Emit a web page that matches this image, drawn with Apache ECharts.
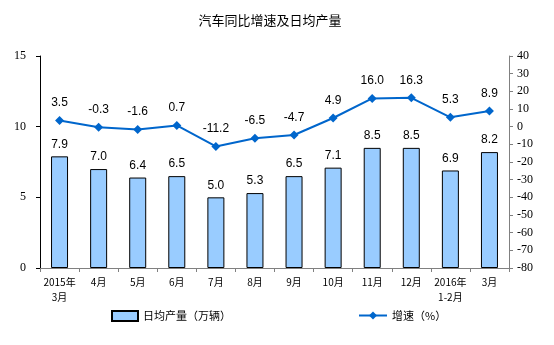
<!DOCTYPE html>
<html>
<head>
<meta charset="utf-8">
<script src="https://cdn.jsdelivr.net/npm/echarts@6/dist/echarts.min.js"></script>
<style>
html,body{margin:0;padding:0;background:#fff;}
#chart{width:554px;height:345px;}
</style>
</head>
<body>
<div id="chart"></div>
<script>
// Monthly car output: categories, daily average output and YoY growth
var categories = ['2015年\n3月', '4月', '5月', '6月', '7月', '8月', '9月', '10月', '11月', '12月', '2016年\n1-2月', '3月'];
var dailyOutput = [7.9, 7.0, 6.4, 6.5, 5.0, 5.3, 6.5, 7.1, 8.5, 8.5, 6.9, 8.2];
var growthRate = [3.5, -0.3, -1.6, 0.7, -11.2, -6.5, -4.7, 4.9, 16.0, 16.3, 5.3, 8.9];
var barName = '日均产量（万辆）';
var lineName = '增速（%）';

var chart = echarts.init(document.getElementById('chart'));
var sans = 'Liberation Sans, Arial, sans-serif';
var cjk = 'Noto Sans CJK SC, sans-serif';
var serif = 'Liberation Serif, Times New Roman, serif';

chart.setOption({
  animation: false,
  title: {
    text: '汽车同比增速及日均产量',
    left: 265, top: 9, textAlign: 'center',
    textStyle: { fontFamily: cjk, fontSize: 13, fontWeight: 'normal', color: '#000' }
  },
  legend: [{
    data: [{ name: barName, icon: 'rect' }],
    left: 106, top: 305,
    itemWidth: 26, itemHeight: 10, itemGap: 4,
    textStyle: { fontFamily: cjk, fontSize: 11, color: '#000' }
  }, {
    data: [lineName],
    left: 353, top: 305,
    itemWidth: 28, itemHeight: 10, itemGap: 3,
    textStyle: { fontFamily: cjk, fontSize: 11, color: '#000' }
  }],
  grid: { left: 40, right: 45, top: 56, bottom: 77 },
  xAxis: {
    type: 'category',
    data: categories,
    axisLine: { lineStyle: { color: '#808080', width: 1 } },
    axisTick: { show: true, alignWithLabel: false, length: 4, lineStyle: { color: '#808080' } },
    axisLabel: { fontFamily: cjk, fontSize: 10, color: '#000', lineHeight: 15, margin: 7, interval: 0 }
  },
  yAxis: [{
    type: 'value', min: 0, max: 15, interval: 5,
    axisLine: { show: true, lineStyle: { color: '#000' } },
    axisTick: { show: true, length: 4, lineStyle: { color: '#000' } },
    splitLine: { show: false },
    axisLabel: { fontFamily: serif, fontSize: 12, color: '#000', margin: 14 }
  }, {
    type: 'value', min: -80, max: 40, interval: 10, position: 'right',
    axisLine: { show: true, lineStyle: { color: '#808080' } },
    axisTick: { show: true, length: 4, lineStyle: { color: '#808080' } },
    splitLine: { show: false },
    axisLabel: { fontFamily: serif, fontSize: 12, color: '#000', margin: 8 }
  }],
  series: [{
    name: barName,
    type: 'bar',
    yAxisIndex: 0,
    data: dailyOutput,
    barWidth: 17,
    itemStyle: { color: '#99CCFF', borderColor: '#000', borderWidth: 1 },
    label: {
      show: true, position: 'top', distance: 6,
      formatter: function (p) { return p.value.toFixed(1); },
      fontFamily: sans, fontSize: 12, color: '#000'
    }
  }, {
    name: lineName,
    type: 'line',
    yAxisIndex: 1,
    data: growthRate,
    symbol: 'diamond',
    symbolSize: 9,
    lineStyle: { color: '#0066CC', width: 2 },
    itemStyle: { color: '#0066CC' },
    label: {
      show: true, position: 'top', distance: 7,
      formatter: function (p) { return p.value.toFixed(1); },
      fontFamily: sans, fontSize: 12, color: '#000'
    }
  }]
});
</script>
</body>
</html>
